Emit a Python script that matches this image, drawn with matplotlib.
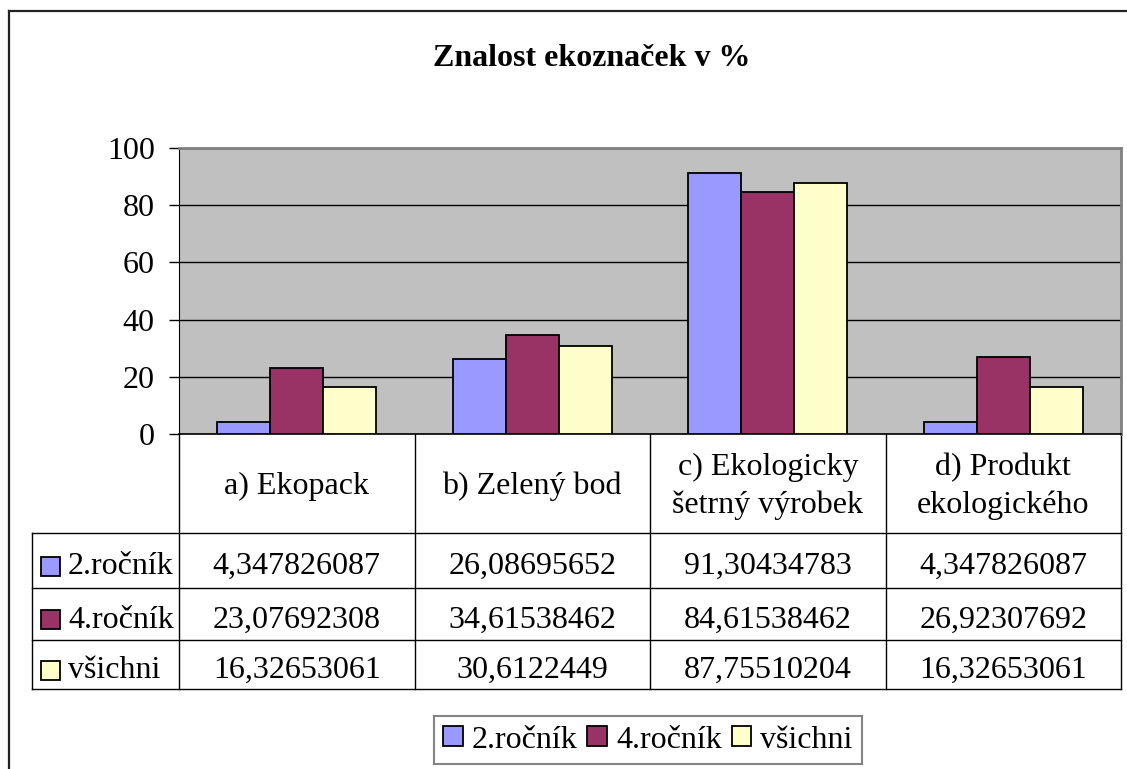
import numpy as np
import matplotlib.pyplot as plt
from matplotlib.patches import Patch
from matplotlib.lines import Line2D

plt.rcParams['font.family'] = ['Liberation Serif', 'DejaVu Serif']

# === Data ===
categories = ["a) Ekopack", "b) Zelený bod", "c) Ekologicky\nšetrný výrobek",
              "d) Produkt\nekologického"]
series_names = ["2.ročník", "4.ročník", "všichni"]
rocnik2 = [4.347826087, 26.08695652, 91.30434783, 4.347826087]
rocnik4 = [23.07692308, 34.61538462, 84.61538462, 26.92307692]
vsichni = [16.32653061, 30.6122449, 87.75510204, 16.32653061]
colors = ["#9999FF", "#993366", "#FFFFCC"]
yticks = [0, 20, 40, 60, 80, 100]

W, H = 1127, 769
fig = plt.figure(figsize=(W / 100, H / 100), dpi=100)

# overlay in pixel coordinates (origin top-left) for frame and table
ov = fig.add_axes([0, 0, 1, 1], zorder=0)
ov.set_xlim(0, W)
ov.set_ylim(H, 0)
ov.axis("off")

# chart area border
ov.add_line(Line2D([9, 9], [11, H + 5], color="#222222", lw=1.6))
ov.add_line(Line2D([9, W + 5], [11, 11], color="#222222", lw=1.6))

# === Bar plot ===
left, right, top, bottom = 179, 1121, 148, 434
ax = fig.add_axes([left / W, 1 - bottom / H, (right - left) / W, (bottom - top) / H], zorder=2)
ax.set_facecolor("#C0C0C0")

data = [rocnik2, rocnik4, vsichni]
x = np.arange(len(categories))
w = 0.225
for j, vals in enumerate(data):
    ax.bar(x + (j - 1) * w, vals, w, color=colors[j], edgecolor="black", lw=1.3, zorder=3)

fs = 23
ax.set_xlim(-0.5, len(categories) - 0.5)
ax.set_ylim(0, 100)
ax.set_yticks(yticks)
ax.set_xticks([])
ax.tick_params(axis="y", length=7.5, width=1, pad=10, labelsize=fs)
ax.yaxis.grid(True, color="black", lw=1)
ax.set_axisbelow(True)
for s in ["top", "right"]:
    ax.spines[s].set_color("#808080")
    ax.spines[s].set_linewidth(2)
ax.spines["left"].set_color("black")
ax.spines["bottom"].set_color("black")
ax.spines["bottom"].set_linewidth(1.2)

fig.text(592 / W, 1 - 58 / H, "Znalost ekoznaček v %", ha="center", va="center",
         fontsize=23, fontweight="bold")

# === Data table ===
bounds = [left + (right - left) * k / len(categories) for k in range(len(categories) + 1)]
row_lines = [533, 588, 640, 689]
lab_left = 32

for bx in bounds:
    ov.add_line(Line2D([bx, bx], [bottom, row_lines[-1]], color="black", lw=1))
ov.add_line(Line2D([lab_left, lab_left], [row_lines[0], row_lines[-1]], color="black", lw=1))
for ry in row_lines:
    ov.add_line(Line2D([lab_left, right], [ry, ry], color="black", lw=1))

for i, cat in enumerate(categories):
    cx = (bounds[i] + bounds[i + 1]) / 2
    ov.text(cx, (bottom + row_lines[0]) / 2 + 3, cat, ha="center", va="center",
            fontsize=fs, linespacing=1.4)

for j, vals in enumerate(data):
    cy = (row_lines[j] + row_lines[j + 1]) / 2 + 6
    ov.add_patch(plt.Rectangle((41, cy - 10), 19, 19, facecolor=colors[j],
                               edgecolor="black", lw=1.3))
    ov.text(68, cy, series_names[j], ha="left", va="center", fontsize=fs)
    for i, v in enumerate(vals):
        cx = (bounds[i] + bounds[i + 1]) / 2
        ov.text(cx, cy, f"{v:.10g}".replace(".", ","), ha="center", va="center", fontsize=fs)

# === Legend ===
handles = [Patch(facecolor=c, edgecolor="black", lw=1.3) for c in colors]
leg = fig.legend(handles, series_names, loc="center", bbox_to_anchor=(648 / W, 1 - 740 / H),
                 ncol=3, fontsize=fs, frameon=True, fancybox=False, edgecolor="#666666",
                 handlelength=0.6, handleheight=0.6, handletextpad=0.3,
                 columnspacing=0.3, borderpad=0.3, borderaxespad=0)
leg.get_frame().set_linewidth(1.5)

fig.savefig("out.png", dpi=100)
